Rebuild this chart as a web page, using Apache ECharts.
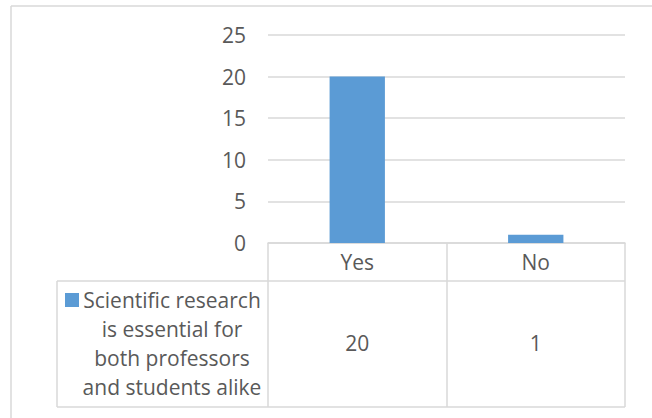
<!DOCTYPE html>
<html>
<head>
<meta charset="utf-8">
<script src="https://cdn.jsdelivr.net/npm/echarts@6/dist/echarts.min.js"></script>
<style>html,body{margin:0;padding:0;background:#fff}#c{width:652px;height:418px}</style>
</head>
<body>
<div id="c"></div>
<script>
var categories = ['Yes', 'No'];
var seriesName = 'Scientific research is essential for both professors and students alike';
var legendLines = ['Scientific research', 'is essential for', 'both professors', 'and students alike'];
var values = [20, 1];
var yTicks = [0, 5, 10, 15, 20, 25];

var FONT = 'Open Sans';
var FS = 21;
var TXT = '#595959';
var GRID = '#d9d9d9';
var BAR = '#5b9bd5';

var chart = echarts.init(document.getElementById('c'), null, {renderer: 'svg'});

var legendText = legendLines.join('\n');

chart.setOption({
  animation: false,
  backgroundColor: '#fff',
  grid: {left: 268, right: 27, top: 35, bottom: 175, containLabel: false},
  xAxis: [{
    type: 'category',
    data: categories,
    position: 'bottom',
    axisLine: {show: true, lineStyle: {color: GRID, width: 1.5}},
    axisTick: {show: true, length: 164, lineStyle: {color: GRID, width: 1.5}},
    axisLabel: {color: TXT, fontFamily: FONT, fontSize: FS, margin: 8}
  }, {
    type: 'category',
    data: values.map(function (v) { return String(v); }),
    position: 'bottom',
    axisLine: {show: false},
    axisTick: {show: false},
    axisLabel: {color: TXT, fontFamily: FONT, fontSize: FS, margin: 89}
  }],
  yAxis: {
    type: 'value',
    min: yTicks[0],
    max: yTicks[yTicks.length - 1],
    interval: 5,
    axisLine: {show: false},
    axisTick: {show: false},
    splitLine: {lineStyle: {color: GRID, width: 1.5}},
    axisLabel: {color: TXT, fontFamily: FONT, fontSize: FS, margin: 22}
  },
  series: [{
    name: seriesName,
    type: 'bar',
    data: values,
    barWidth: '31%',
    itemStyle: {color: BAR}
  }],
  graphic: [
    {type: 'line', shape: {x1: 11, y1: 6, x2: 652, y2: 6}, style: {stroke: GRID, lineWidth: 1.5}},
    {type: 'line', shape: {x1: 11, y1: 6, x2: 11, y2: 418}, style: {stroke: GRID, lineWidth: 1.5}},
    {type: 'line', shape: {x1: 57, y1: 281, x2: 625, y2: 281}, style: {stroke: GRID, lineWidth: 1.5}},
    {type: 'line', shape: {x1: 57, y1: 407, x2: 625, y2: 407}, style: {stroke: GRID, lineWidth: 1.5}},
    {type: 'line', shape: {x1: 57, y1: 281, x2: 57, y2: 407}, style: {stroke: GRID, lineWidth: 1.5}},
    {type: 'rect', shape: {x: 65, y: 293, width: 14, height: 14}, style: {fill: BAR}},
    {type: 'text', x: 172, y: 285, style: {text: legendText, fill: TXT, font: FS + 'px "Open Sans"', align: 'center', verticalAlign: 'top', lineHeight: 29}}
  ]
});
</script>
</body>
</html>
